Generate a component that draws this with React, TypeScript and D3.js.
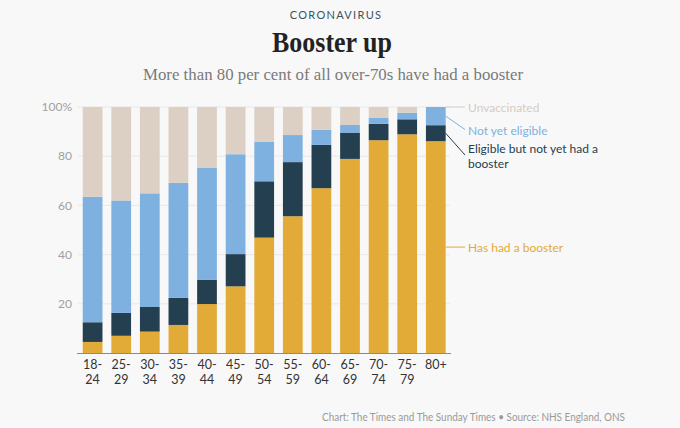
import React from "react";
import * as d3 from "d3";

const categories = ["18-24", "25-29", "30-34", "35-39", "40-44", "45-49", "50-54", "55-59", "60-64", "65-69", "70-74", "75-79", "80+"];
const hasBooster = [4.5, 7.0, 8.7, 11.4, 19.9, 27.1, 46.9, 55.6, 67.0, 78.9, 86.5, 88.9, 86.1];
const eligibleNoBooster = [8.0, 9.3, 10.0, 11.0, 9.8, 13.1, 22.9, 22.0, 17.6, 10.7, 6.7, 6.1, 6.5];
const notYetEligible = [51.0, 45.7, 46.2, 46.8, 45.5, 40.6, 16.0, 11.0, 6.1, 3.1, 2.5, 2.7, 7.4];
const unvaccinated = [36.5, 38.0, 35.1, 30.8, 24.8, 19.2, 14.2, 11.4, 9.3, 7.3, 4.3, 2.3, 0.0];
const yTicks = [20, 40, 60, 80, 100];
const seriesNames = ["Has had a booster", "Eligible but not yet had a booster", "Not yet eligible", "Unvaccinated"];

const W = 680;
const H = 428;
const SANS = "Lato, 'Open Sans', sans-serif";
const SERIF = "'Liberation Serif', 'DejaVu Serif', serif";

const colors = ["#e2aa37", "#243f4f", "#7eb0e0", "#dccfc3"];
const labelColors = ["#e2aa37", "#243f4f", "#7eb0e0", "#d6ccc2"];

export default function App() {
  const x = d3.scaleBand<string>().domain(categories).range([78.3, 450.1]).paddingInner(0.31).paddingOuter(0.155);
  const y = d3.scaleLinear().domain([0, 100]).range([353, 107]);

  const rows = categories.map((c, i) => ({
    cat: c,
    s0: hasBooster[i],
    s1: eligibleNoBooster[i],
    s2: notYetEligible[i],
    s3: unvaccinated[i],
  }));
  const stack = d3.stack<any>().keys(["s0", "s1", "s2", "s3"]);
  const layers = stack(rows);

  const lastIdx = categories.length - 1;
  const lastX = (x(categories[lastIdx]) as number) + x.bandwidth();
  const labelX = 468;
  const lineEnd = 465;

  const mid = (k: number) => {
    const seg = layers[k][lastIdx];
    return y((seg[0] + seg[1]) / 2);
  };

  const legend = [
    { k: 3, ly: y(100), ty: [108] , lines: [seriesNames[3]], endY: y(100) },
    { k: 2, ly: mid(2), ty: [131], lines: [seriesNames[2]], endY: 129.5 },
    { k: 1, ly: mid(1), ty: [149, 164], lines: ["Eligible but not yet had a", "booster"], endY: 155 },
    { k: 0, ly: mid(0), ty: [248], lines: [seriesNames[0]], endY: mid(0) },
  ];

  return (
    <div style={{ position: "fixed", left: 0, top: 0 }}>
      <svg width={W} height={H} style={{ display: "block", background: "#f8f8f8" }}>
        <rect x={0} y={0} width={W} height={H} fill="#f8f8f8" />
        <text x={336} y={19} textAnchor="middle" fontFamily={SANS} fontSize={11} letterSpacing={1.3} fill="#3c5262">CORONAVIRUS</text>
        <text x={332} y={52} textAnchor="middle" fontFamily={SERIF} fontWeight="bold" fontSize={29} fill="#222" textLength={120} lengthAdjust="spacingAndGlyphs">Booster up</text>
        <text x={333} y={80} textAnchor="middle" fontFamily={SERIF} fontSize={17} fill="#7a7a7a" textLength={380} lengthAdjust="spacingAndGlyphs">More than 80 per cent of all over-70s have had a booster</text>

        {yTicks.map((t) => (
          <g key={t}>
            <line x1={78} x2={450} y1={y(t)} y2={y(t)} stroke="#e8e8e8" strokeWidth={1} />
            <text x={72} y={y(t)} dy="0.35em" textAnchor="end" fontFamily={SANS} fontSize={12} fill="#a0a0a0">{t === 100 ? "100%" : t}</text>
          </g>
        ))}

        {layers.map((layer, k) => (
          <g key={k} fill={colors[k]}>
            {layer.map((seg, i) => (
              <rect key={i} x={x(categories[i])} width={x.bandwidth()} y={y(seg[1])} height={Math.max(0, y(seg[0]) - y(seg[1]))} />
            ))}
          </g>
        ))}

        <line x1={77} x2={451} y1={y(0) + 0.5} y2={y(0) + 0.5} stroke="#8a8a8a" strokeWidth={1} />

        {categories.map((c) => {
          const parts = c.includes("-") ? [c.split("-")[0] + "-", c.split("-")[1]] : [c];
          const cx = (x(c) as number) + x.bandwidth() / 2;
          return (
            <text key={c} x={cx} textAnchor="middle" fontFamily={SANS} fontSize={12.5} fill="#333">
              {parts.map((p, j) => (
                <tspan key={j} x={cx} y={369 + j * 15}>{p}</tspan>
              ))}
            </text>
          );
        })}

        {legend.map((l) => (
          <g key={l.k}>
            <line x1={lastX} y1={l.ly} x2={lineEnd} y2={l.endY} stroke={labelColors[l.k]} strokeWidth={1} />
            {l.lines.map((ln, j) => (
              <text key={j} x={labelX} y={l.ty[j]} dy="0.35em" fontFamily={SANS} fontSize={12} fill={labelColors[l.k]}>{ln}</text>
            ))}
          </g>
        ))}

        <text x={322} y={421} fontFamily={SANS} fontSize={10.5} fill="#9a9a9a" textLength={303} lengthAdjust="spacingAndGlyphs">Chart: The Times and The Sunday Times • Source: NHS England, ONS</text>
      </svg>
    </div>
  );
}
